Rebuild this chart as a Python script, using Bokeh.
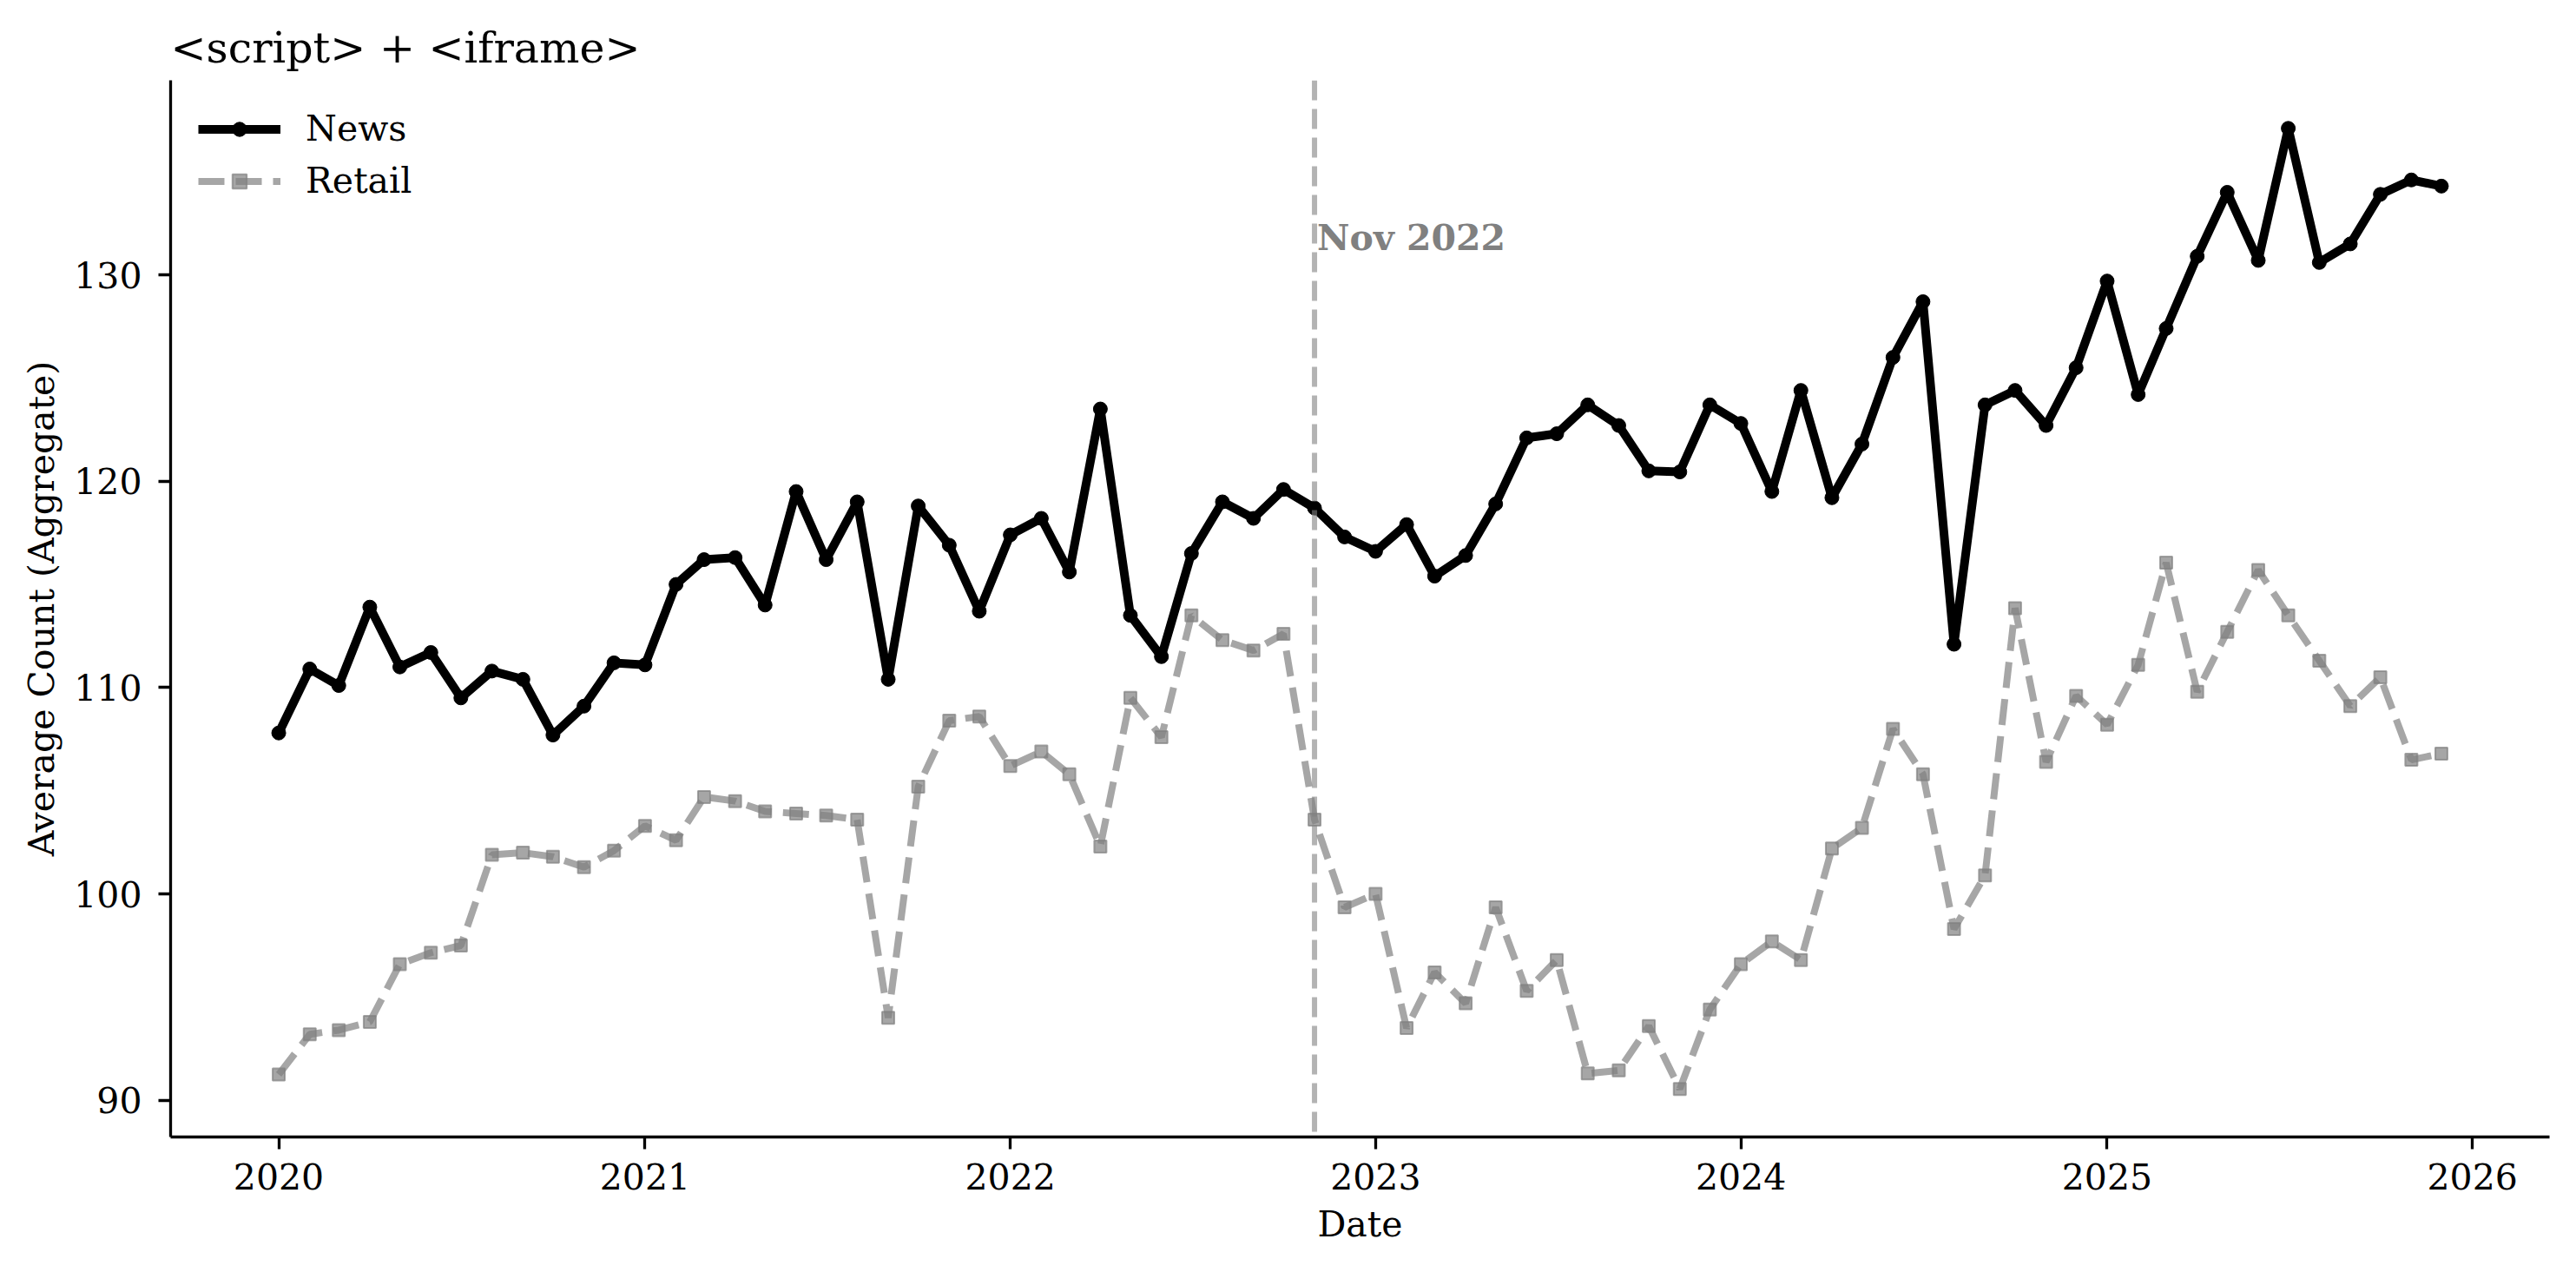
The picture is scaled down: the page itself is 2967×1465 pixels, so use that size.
from datetime import datetime
from bokeh.plotting import figure
from bokeh.models import (Range1d, FixedTicker, DatetimeTickFormatter, Span, Label)
from bokeh.embed import file_html
from bokeh.resources import INLINE

# ---------------- data ----------------
years = [2020, 2021, 2022, 2023, 2024, 2025]
month_numbers = list(range(1, 13))
dates = [datetime(y, m, 1) for y in years for m in month_numbers]

news = [
    107.8, 110.9, 110.1, 113.9, 111.0, 111.7, 109.5, 110.8, 110.4, 107.7, 109.1, 111.2,
    111.1, 115.0, 116.2, 116.3, 114.0, 119.5, 116.2, 119.0, 110.4, 118.8, 116.9, 113.7,
    117.4, 118.2, 115.6, 123.5, 113.5, 111.5, 116.5, 119.0, 118.2, 119.6, 118.7, 117.3,
    116.6, 117.9, 115.4, 116.4, 118.9, 122.1, 122.3, 123.7, 122.7, 120.5, 120.45, 123.7,
    122.8, 119.5, 124.4, 119.2, 121.8, 126.0, 128.7, 112.1, 123.7, 124.4, 122.7, 125.5,
    129.7, 124.2, 127.4, 130.9, 134.0, 130.7, 137.1, 130.6, 131.5, 133.9, 134.6, 134.3,
]
retail = [
    91.25, 93.2, 93.4, 93.8, 96.6, 97.15, 97.5, 101.9, 102.0, 101.8, 101.3, 102.1,
    103.3, 102.6, 104.7, 104.5, 104.0, 103.9, 103.8, 103.6, 94.0, 105.2, 108.4, 108.6,
    106.2, 106.9, 105.8, 102.3, 109.5, 107.6, 113.5, 112.3, 111.8, 112.6, 103.6, 99.35,
    100.0, 93.5, 96.2, 94.7, 99.35, 95.3, 96.8, 91.3, 91.45, 93.6, 90.55, 94.4,
    96.6, 97.7, 96.8, 102.2, 103.2, 108.0, 105.8, 98.3, 100.9, 113.85, 106.4, 109.6,
    108.2, 111.1, 116.05, 109.8, 112.7, 115.7, 113.5, 111.3, 109.1, 110.5, 106.5, 106.8,
]
x_tick_years = [2020, 2021, 2022, 2023, 2024, 2025, 2026]
y_ticks = [90, 100, 110, 120, 130]
event_date = datetime(2022, 11, 1)
event_label = "Nov 2022"
title_text = "<script> + <iframe>"

# ---------------- figure ----------------
FONT = "DejaVu Serif"
span_x = dates[-1] - dates[0]
x_start = dates[0] - span_x * 0.05
x_end = dates[-1] + span_x * 0.05
all_vals = news + retail
y_lo, y_hi = min(all_vals), max(all_vals)
y_pad = (y_hi - y_lo) * 0.05

p = figure(width=2958, height=1449, x_axis_type="datetime",
           output_backend="svg", toolbar_location=None,
           x_range=Range1d(x_start, x_end),
           y_range=Range1d(y_lo - y_pad, y_hi + y_pad),
           min_border_left=196, min_border_right=22,
           min_border_top=92, min_border_bottom=140)

p.title.text = title_text
p.title.text_font = FONT
p.title.text_font_size = "49px"
p.title.text_font_style = "normal"
p.title.text_color = "black"
p.title.align = "left"
p.title.standoff = 18

p.outline_line_color = None
p.xgrid.grid_line_color = None
p.ygrid.grid_line_color = None
p.background_fill_color = "white"

# event line
span = Span(location=event_date, dimension="height", line_color="#808080",
            line_alpha=0.6, line_width=6, line_dash="23 10")
p.add_layout(span)

# series
p.line(dates, retail, line_color="#808080", line_alpha=0.7, line_width=8,
       line_dash="30 13", legend_label="Retail")
p.scatter(dates, retail, marker="square", size=14, fill_color="#808080",
          fill_alpha=0.7, line_color="#808080", line_alpha=0.7, line_width=2,
          legend_label="Retail")
p.line(dates, news, line_color="black", line_width=10, legend_label="News",
       line_join="round")
p.scatter(dates, news, marker="circle", size=16, fill_color="black",
          line_color="black", legend_label="News")

p.add_layout(Label(x=event_date, y=131.8, x_offset=3, text=event_label,
                   text_font=FONT, text_font_size="41px", text_font_style="bold",
                   text_color="#808080", text_baseline="alphabetic"))

# axes
tick_ms = [datetime(y, 1, 1).timestamp() * 1000 for y in x_tick_years]
p.xaxis.ticker = FixedTicker(ticks=tick_ms)
p.xaxis.formatter = DatetimeTickFormatter(years="%Y", months="%Y", days="%Y",
                                          hours="%Y", minutes="%Y", seconds="%Y")
p.yaxis.ticker = FixedTicker(ticks=y_ticks)
p.xaxis.axis_label = "Date"
p.yaxis.axis_label = "Average Count (Aggregate)"

for ax in (p.xaxis[0], p.yaxis[0]):
    ax.axis_line_width = 3.3
    ax.axis_line_color = "black"
    ax.major_tick_line_width = 3.3
    ax.major_tick_line_color = "black"
    ax.major_tick_out = 14
    ax.major_tick_in = 0
    ax.minor_tick_line_color = None
    ax.major_label_text_font = FONT
    ax.major_label_text_font_size = "41px"
    ax.major_label_text_color = "black"
    ax.axis_label_text_font = FONT
    ax.axis_label_text_font_size = "41px"
    ax.axis_label_text_font_style = "normal"
    ax.axis_label_text_color = "black"

p.xaxis.major_label_standoff = 16
p.yaxis.major_label_standoff = 19
p.xaxis.axis_label_standoff = 13
p.yaxis.axis_label_standoff = 10

# legend
lg = p.legend[0]
lg.location = "top_left"
lg.border_line_color = None
lg.background_fill_alpha = 0
lg.label_text_font = FONT
lg.label_text_font_size = "41px"
lg.label_text_color = "black"
lg.glyph_width = 95
lg.glyph_height = 41
lg.label_height = 41
lg.label_standoff = 29
lg.spacing = 12
lg.padding = 0
lg.margin = 32
# put News first
lg.items = list(reversed(lg.items))

open("out.html", "w").write(file_html(p, INLINE))
